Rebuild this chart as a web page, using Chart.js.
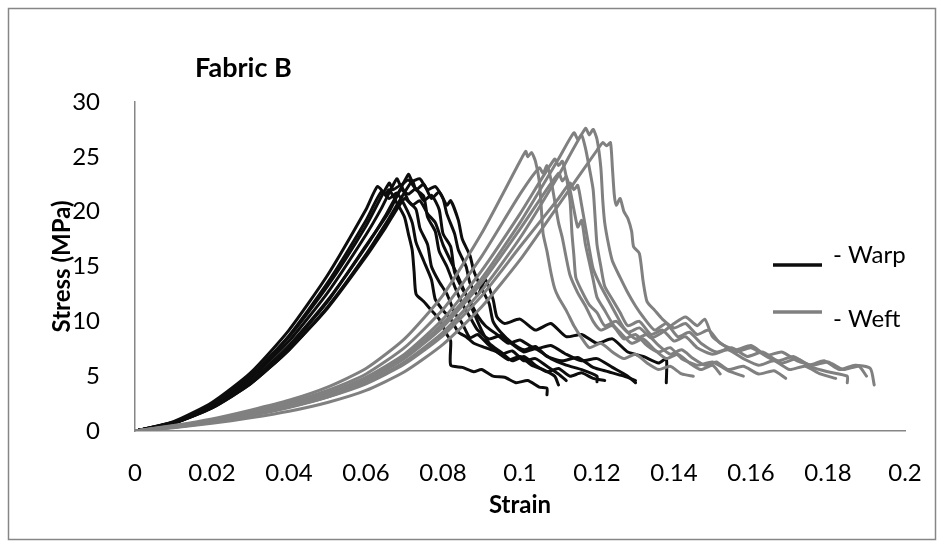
<!DOCTYPE html>
<html>
<head>
<meta charset="utf-8">
<title>Fabric B</title>
<script src="https://cdn.jsdelivr.net/npm/chart.js@4.4.0/dist/chart.umd.min.js"></script>
<style>
  html, body { margin: 0; padding: 0; background: #fff; }
</style>
</head>
<body>
<canvas id="myChart" width="944" height="549"></canvas>
<script>
// [strain, stress MPa]
const warp1 = [[0,0],[0.01,0.85],[0.02,2.6],[0.03,5.3],[0.04,9.2],[0.05,14.2],[0.06,20.2],[0.063,22.3],[0.065,21.6],[0.066,22.0],[0.068,20.8],[0.07,19.5],[0.071,18.0],[0.072,16.5],[0.0725,14.5],[0.073,12.5],[0.075,11.8],[0.077,11.0],[0.079,10.2],[0.081,8.8],[0.082,8.2],[0.082,6.0],[0.085,5.8],[0.088,5.4],[0.09,5.6],[0.093,5.0],[0.096,4.9],[0.099,4.4],[0.102,4.6],[0.105,4.0],[0.107,3.9],[0.107,3.3]];
const warp2 = [[0,0],[0.01,0.8],[0.02,2.4],[0.03,5.0],[0.04,8.7],[0.05,13.5],[0.06,19.2],[0.064,21.8],[0.066,21.2],[0.068,21.7],[0.07,20.6],[0.072,19.0],[0.073,17.2],[0.075,15.5],[0.077,13.8],[0.078,12.0],[0.08,11.0],[0.082,10.2],[0.084,9.0],[0.086,8.6],[0.088,8.0],[0.091,7.6],[0.094,7.2],[0.097,6.5],[0.1,6.8],[0.103,6.0],[0.106,5.6],[0.109,5.0],[0.11,4.2]];
const warp3 = [[0,0],[0.01,0.8],[0.02,2.4],[0.03,5.0],[0.04,8.6],[0.05,13.2],[0.06,18.7],[0.066,22.6],[0.067,22.0],[0.069,22.4],[0.071,21.0],[0.073,20.2],[0.074,18.5],[0.076,17.0],[0.077,15.0],[0.079,13.6],[0.081,12.5],[0.083,10.8],[0.085,9.8],[0.087,8.5],[0.089,8.8],[0.092,7.8],[0.095,7.0],[0.098,7.3],[0.101,6.4],[0.104,6.6],[0.107,5.9],[0.11,5.2],[0.112,4.6]];
const warp4 = [[0,0],[0.01,0.75],[0.02,2.3],[0.03,4.8],[0.04,8.2],[0.05,12.6],[0.06,17.9],[0.064,20.3],[0.068,23.0],[0.069,22.4],[0.071,22.9],[0.073,22.0],[0.075,21.4],[0.076,19.5],[0.078,18.2],[0.079,16.4],[0.081,15.0],[0.083,13.2],[0.085,11.6],[0.087,10.4],[0.089,9.2],[0.092,8.4],[0.095,8.7],[0.098,7.9],[0.101,7.2],[0.104,7.5],[0.108,6.6],[0.112,6.0],[0.116,5.6],[0.12,5.0],[0.12,4.5]];
const warp5 = [[0,0],[0.01,0.72],[0.02,2.2],[0.03,4.5],[0.04,7.8],[0.05,11.9],[0.06,16.8],[0.065,19.6],[0.069,22.0],[0.071,21.6],[0.073,22.1],[0.075,21.0],[0.077,21.5],[0.079,20.2],[0.08,18.0],[0.082,16.8],[0.083,14.5],[0.085,13.0],[0.087,11.8],[0.089,10.5],[0.091,9.6],[0.094,8.8],[0.097,8.0],[0.1,8.3],[0.104,7.5],[0.108,7.8],[0.112,7.0],[0.116,6.4],[0.12,6.6],[0.124,5.8],[0.128,5.0],[0.13,4.4]];
const warp6 = [[0,0],[0.01,0.72],[0.02,2.2],[0.03,4.5],[0.04,7.7],[0.05,11.8],[0.06,16.9],[0.066,20.0],[0.071,23.4],[0.072,22.8],[0.074,23.0],[0.076,22.0],[0.078,22.3],[0.08,21.2],[0.081,19.8],[0.083,18.0],[0.084,16.5],[0.086,15.0],[0.087,13.5],[0.089,12.4],[0.091,13.8],[0.093,12.0],[0.094,10.4],[0.096,9.8],[0.1,10.2],[0.104,9.2],[0.108,9.8],[0.112,8.6],[0.116,8.8],[0.12,8.0],[0.124,8.4],[0.128,7.2],[0.132,6.8],[0.136,6.2],[0.138,6.6],[0.138,4.4]];
const warp7 = [[0,0],[0.01,0.7],[0.02,2.1],[0.03,4.3],[0.04,7.4],[0.05,11.3],[0.06,16.1],[0.066,19.4],[0.072,22.8],[0.073,22.0],[0.075,22.5],[0.077,21.2],[0.079,21.8],[0.081,20.6],[0.082,21.0],[0.084,19.2],[0.085,17.5],[0.087,16.0],[0.088,14.6],[0.09,13.0],[0.092,11.6],[0.093,10.0],[0.095,9.0],[0.098,8.0],[0.101,7.4],[0.104,7.7],[0.107,6.8],[0.111,6.4],[0.115,6.7],[0.119,5.8],[0.123,5.4],[0.127,5.0],[0.13,4.6]];
const warp8 = [[0,0],[0.01,0.7],[0.02,2.1],[0.03,4.3],[0.04,7.4],[0.05,11.2],[0.06,15.9],[0.065,18.5],[0.07,21.2],[0.072,20.6],[0.074,21.0],[0.076,19.8],[0.078,19.0],[0.08,17.0],[0.082,15.5],[0.084,14.0],[0.086,12.4],[0.088,10.8],[0.09,9.2],[0.092,8.0],[0.095,7.2],[0.098,6.4],[0.101,6.8],[0.104,6.0],[0.107,5.4],[0.11,5.7],[0.113,5.0],[0.116,5.3],[0.119,4.8],[0.122,4.6]];

const weft1 = [[0,0],[0.01,0.5],[0.02,1.1],[0.03,1.9],[0.04,2.8],[0.05,4.0],[0.06,5.7],[0.07,8.4],[0.08,12.4],[0.09,18.0],[0.1,24.6],[0.1015,25.5],[0.102,25.0],[0.103,25.4],[0.104,24.6],[0.105,22.8],[0.1055,20.5],[0.106,18.0],[0.107,16.4],[0.108,14.5],[0.109,13.0],[0.11,12.2],[0.112,11.0],[0.114,9.6],[0.116,8.5],[0.118,7.6],[0.121,8.0],[0.124,7.2],[0.127,6.6],[0.13,7.0],[0.133,6.2],[0.136,5.6],[0.139,5.9],[0.142,5.2],[0.145,5.0]];
const weft2 = [[0,0],[0.01,0.45],[0.02,1.0],[0.03,1.75],[0.04,2.6],[0.05,3.7],[0.06,5.2],[0.07,7.6],[0.08,11.1],[0.09,15.9],[0.1,21.6],[0.105,24.0],[0.106,23.5],[0.107,24.2],[0.108,23.0],[0.109,21.0],[0.11,19.0],[0.111,17.6],[0.112,15.8],[0.113,14.2],[0.115,12.6],[0.117,11.4],[0.119,10.0],[0.121,9.2],[0.124,9.6],[0.127,8.4],[0.13,8.8],[0.133,7.8],[0.136,7.2],[0.139,7.6],[0.142,6.6],[0.146,6.0],[0.15,6.3],[0.154,5.5],[0.158,5.0]];
const weft3 = [[0,0],[0.01,0.4],[0.02,0.95],[0.03,1.6],[0.04,2.45],[0.05,3.5],[0.06,4.9],[0.07,7.0],[0.08,10.2],[0.09,14.6],[0.1,19.8],[0.109,24.8],[0.11,24.2],[0.111,24.6],[0.112,23.2],[0.113,21.0],[0.1135,18.0],[0.114,16.0],[0.1145,14.0],[0.116,12.8],[0.118,11.5],[0.12,10.8],[0.122,9.6],[0.125,10.0],[0.128,9.0],[0.131,9.4],[0.134,8.5],[0.137,9.0],[0.14,9.8],[0.143,10.4],[0.146,9.6],[0.148,10.2],[0.15,8.6],[0.153,7.8],[0.156,7.2],[0.16,7.6],[0.164,6.8],[0.168,6.2],[0.172,6.6],[0.176,5.8],[0.18,5.4],[0.185,5.0],[0.185,4.4]];
const weft4 = [[0,0],[0.01,0.35],[0.02,0.85],[0.03,1.45],[0.04,2.2],[0.05,3.1],[0.06,4.3],[0.07,6.1],[0.08,8.7],[0.09,12.3],[0.1,16.8],[0.11,21.2],[0.113,22.6],[0.114,22.0],[0.115,22.4],[0.116,20.6],[0.117,18.6],[0.118,16.6],[0.119,14.8],[0.121,13.2],[0.123,11.9],[0.125,10.6],[0.127,9.4],[0.13,8.4],[0.133,8.8],[0.136,7.8],[0.139,7.0],[0.142,7.4],[0.145,6.6],[0.148,6.0],[0.151,6.3],[0.154,5.6],[0.158,5.9],[0.162,5.2],[0.166,5.5],[0.169,4.8]];
const weft5 = [[0,0],[0.01,0.4],[0.02,0.9],[0.03,1.55],[0.04,2.35],[0.05,3.4],[0.06,4.8],[0.07,6.8],[0.08,9.8],[0.09,13.9],[0.1,19.0],[0.11,24.8],[0.114,27.2],[0.115,26.6],[0.116,27.0],[0.117,25.8],[0.118,24.0],[0.119,22.0],[0.1195,19.5],[0.12,17.0],[0.121,15.0],[0.122,13.2],[0.124,12.0],[0.126,10.8],[0.128,9.6],[0.131,10.0],[0.134,8.8],[0.137,9.2],[0.14,8.2],[0.143,8.6],[0.146,7.6],[0.15,7.0],[0.154,7.4],[0.158,6.6],[0.162,6.0],[0.166,6.4],[0.17,5.6],[0.174,5.9],[0.178,5.2],[0.182,4.8]];
const weft6 = [[0,0],[0.01,0.35],[0.02,0.8],[0.03,1.4],[0.04,2.15],[0.05,3.1],[0.06,4.4],[0.07,6.3],[0.08,9.0],[0.09,12.8],[0.1,17.6],[0.11,23.3],[0.117,27.6],[0.118,27.0],[0.119,27.5],[0.12,26.6],[0.121,24.0],[0.1215,21.0],[0.122,19.0],[0.123,17.0],[0.124,15.5],[0.126,14.0],[0.128,12.6],[0.13,11.4],[0.132,10.4],[0.135,9.2],[0.138,9.8],[0.141,8.6],[0.144,9.0],[0.147,8.0],[0.151,7.2],[0.155,7.6],[0.159,6.8],[0.163,7.2],[0.167,6.4],[0.171,6.8],[0.175,6.0],[0.179,6.4],[0.183,5.6],[0.187,6.0],[0.191,5.7],[0.192,4.2]];
const weft7 = [[0,0],[0.01,0.3],[0.02,0.7],[0.03,1.2],[0.04,1.8],[0.05,2.6],[0.06,3.7],[0.07,5.4],[0.08,7.9],[0.09,11.3],[0.1,15.6],[0.11,20.6],[0.12,25.6],[0.1215,26.3],[0.1225,26.0],[0.1235,26.3],[0.124,24.0],[0.1245,21.5],[0.125,20.6],[0.126,21.2],[0.127,20.0],[0.128,19.4],[0.129,18.2],[0.1295,16.8],[0.131,16.2],[0.132,13.6],[0.133,11.8],[0.135,11.0],[0.137,10.2],[0.14,9.4],[0.143,9.8],[0.146,8.8],[0.149,9.2],[0.152,8.0],[0.156,7.4],[0.16,7.8],[0.164,6.9],[0.168,7.2],[0.172,6.4],[0.176,6.0],[0.18,6.3],[0.184,5.6],[0.188,5.9],[0.19,5.0]];
const weft8 = [[0,0],[0.01,0.4],[0.02,0.9],[0.03,1.5],[0.04,2.3],[0.05,3.3],[0.06,4.6],[0.07,6.6],[0.08,9.5],[0.09,13.5],[0.1,18.4],[0.11,23.5],[0.111,22.8],[0.112,23.2],[0.113,22.0],[0.114,20.2],[0.115,18.6],[0.116,19.2],[0.117,17.0],[0.118,15.4],[0.119,13.8],[0.12,12.2],[0.122,11.0],[0.124,9.8],[0.126,9.0],[0.129,8.0],[0.132,8.4],[0.135,7.4],[0.138,6.6],[0.141,7.0],[0.144,6.2],[0.147,5.6],[0.15,6.0],[0.152,5.2]];

const xTicks = [0, 0.02, 0.04, 0.06, 0.08, 0.1, 0.12, 0.14, 0.16, 0.18, 0.2];
const yTicks = [0, 5, 10, 15, 20, 25, 30];
const seriesNames = ['- Warp', '- Weft'];
const chartTitle = 'Fabric B';

const warpColor = '#0d0d0d';
const weftColor = '#808080';

Chart.defaults.font.family = 'Lato';

const toPts = arr => arr.map(p => ({x: p[0], y: p[1]}));
const makeSet = (arr, color) => ({
    data: toPts(arr),
    showLine: true,
    borderColor: color,
    backgroundColor: color,
    borderWidth: 3,
    pointRadius: 0,
    tension: 0.2,
    borderJoinStyle: 'round',
    borderCapStyle: 'round'
});

const weftSets = [weft1, weft2, weft3, weft4, weft5, weft6, weft7, weft8].map(a => makeSet(a, weftColor));
const warpSets = [warp1, warp2, warp3, warp4, warp5, warp6, warp7, warp8].map(a => makeSet(a, warpColor));

// frame, title and the little legend inside the plot
const decor = {
    id: 'decor',
    beforeDraw(chart) {
        const c = chart.ctx;
        c.save();
        c.fillStyle = '#fff';
        c.fillRect(0, 0, chart.width, chart.height);
        c.strokeStyle = '#868686';
        c.lineWidth = 1.5;
        c.strokeRect(8.5, 8.5, 927, 531);
        c.restore();
    },
    afterDraw(chart) {
        const c = chart.ctx;
        c.save();
        c.fillStyle = '#000';
        c.textBaseline = 'alphabetic';
        c.font = 'bold 27px Lato';
        c.fillText(chartTitle, 195, 77);

        const rows = [
            {name: seriesNames[0], color: warpColor, lineY: 265, textY: 263},
            {name: seriesNames[1], color: weftColor, lineY: 312, textY: 327}
        ];
        c.font = '24px Lato';
        rows.forEach(r => {
            c.strokeStyle = r.color;
            c.lineWidth = 3.5;
            c.beginPath();
            c.moveTo(773, r.lineY);
            c.lineTo(822, r.lineY);
            c.stroke();
            c.fillStyle = '#000';
            c.fillText(r.name, 833, r.textY);
        });
        c.restore();
    }
};

const ctx = document.getElementById('myChart').getContext('2d');

const myChart = new Chart(ctx, {
    type: 'scatter',
    data: {
        datasets: weftSets.concat(warpSets)
    },
    plugins: [decor],
    options: {
        responsive: false,
        animation: false,
        devicePixelRatio: 1,
        layout: {
            padding: {top: 102, right: 39, left: 0, bottom: 0}
        },
        plugins: {
            legend: {display: false},
            tooltip: {enabled: false}
        },
        scales: {
            x: {
                type: 'linear',
                min: 0,
                max: 0.2,
                grid: {display: false},
                border: {display: true, color: '#868686', width: 1.5},
                ticks: {
                    color: '#000',
                    font: {size: 24},
                    padding: 20,
                    maxRotation: 0,
                    autoSkip: false,
                    callback: v => String(v)
                },
                afterBuildTicks: s => { s.ticks = xTicks.map(v => ({value: v})); },
                afterFit: s => { s.height = 118; },
                title: {
                    display: true,
                    text: 'Strain',
                    color: '#000',
                    font: {size: 24, weight: 'bold'},
                    padding: {top: 0, bottom: 29}
                }
            },
            y: {
                type: 'linear',
                min: 0,
                max: 30,
                grid: {display: false},
                border: {display: true, color: '#868686', width: 1.5},
                ticks: {
                    color: '#000',
                    font: {size: 24},
                    padding: 27,
                    callback: v => String(v)
                },
                afterBuildTicks: s => { s.ticks = yTicks.map(v => ({value: v})); },
                afterFit: s => { s.width = 135; },
                title: {
                    display: true,
                    text: 'Stress (MPa)',
                    color: '#000',
                    font: {size: 24, weight: 'bold'},
                    padding: {top: 48, bottom: 0}
                }
            }
        }
    }
});
</script>
</body>
</html>
